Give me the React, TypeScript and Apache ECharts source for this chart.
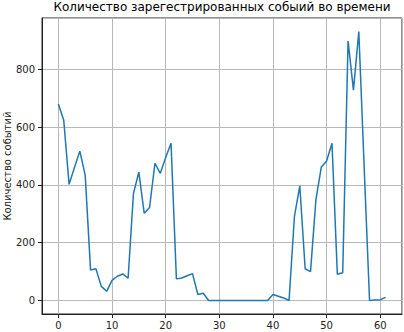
import React, { useEffect, useRef } from "react";
import * as echarts from "echarts";

const titleText = "Количество зарегестрированных собыий во времени";
const yAxisName = "Количество событий";
const counts: number[] = [
  680, 624, 402, 460, 517, 434, 106, 110, 49, 32,
  70, 84, 92, 77, 371, 444, 302, 322, 475, 440,
  495, 544, 75, 78, 86, 93, 21, 25, 0, 0,
  0, 0, 0, 0, 0, 0, 0, 0, 0, 0,
  21, 15, 9, 0, 291, 397, 110, 100, 348, 461,
  483, 544, 91, 96, 898, 728, 931, 460, 0, 2,
  3, 11,
];

export default function App() {
  const ref = useRef<HTMLDivElement>(null);
  useEffect(() => {
    if (!ref.current) return;
    const chart = echarts.init(ref.current, null, { renderer: "svg" });
    const data = counts.map((v, i) => [i, v]);
    const n = counts.length - 1;
    const maxV = Math.max(...counts);
    const font = "DejaVu Sans";
    const axisCommon = {
      type: "value",
      axisLine: { show: true, onZero: false, lineStyle: { color: "#222", width: 1 } },
      axisTick: { show: true, length: 4, lineStyle: { color: "#222", width: 1 } },
      splitLine: { show: true, lineStyle: { color: "#b8b8b8", width: 1, type: "solid" } },
    };
    chart.setOption({
      animation: false,
      textStyle: { fontFamily: font },
      graphic: [
        {
          type: "text",
          x: 222,
          y: 1,
          style: {
            text: titleText,
            fill: "#000",
            font: `12px "${font}"`,
            textAlign: "center",
            textVerticalAlign: "top",
          },
        },
      ],
      grid: {
        left: 42,
        right: 2,
        top: 18,
        bottom: 18,
        containLabel: false,
        outerBoundsMode: "none",
        show: true,
        borderColor: "#222",
        borderWidth: 1,
        backgroundColor: "transparent",
      },
      xAxis: {
        ...axisCommon,
        min: -0.05 * n,
        max: n * 1.05,
        axisLabel: {
          showMinLabel: false,
          showMaxLabel: false,
          fontSize: 10,
          color: "#222",
          margin: 6,
          fontFamily: font,
        },
      },
      yAxis: {
        ...axisCommon,
        min: -0.05 * maxV,
        max: maxV * 1.05,
        name: yAxisName,
        nameLocation: "middle",
        nameGap: 30,
        nameMoveOverlap: false,
        nameTextStyle: { fontSize: 10, color: "#222", fontFamily: font },
        axisLabel: {
          showMinLabel: false,
          showMaxLabel: false,
          fontSize: 10,
          color: "#222",
          margin: 7,
          fontFamily: font,
        },
      },
      series: [
        {
          type: "line",
          data,
          showSymbol: false,
          symbol: "none",
          z: 5,
          lineStyle: { color: "#1f77b4", width: 1.5 },
        },
      ],
    });
    return () => chart.dispose();
  }, []);
  return (
    <div
      ref={ref}
      style={{ position: "absolute", left: 0, top: 0, width: 404, height: 332 }}
    />
  );
}
